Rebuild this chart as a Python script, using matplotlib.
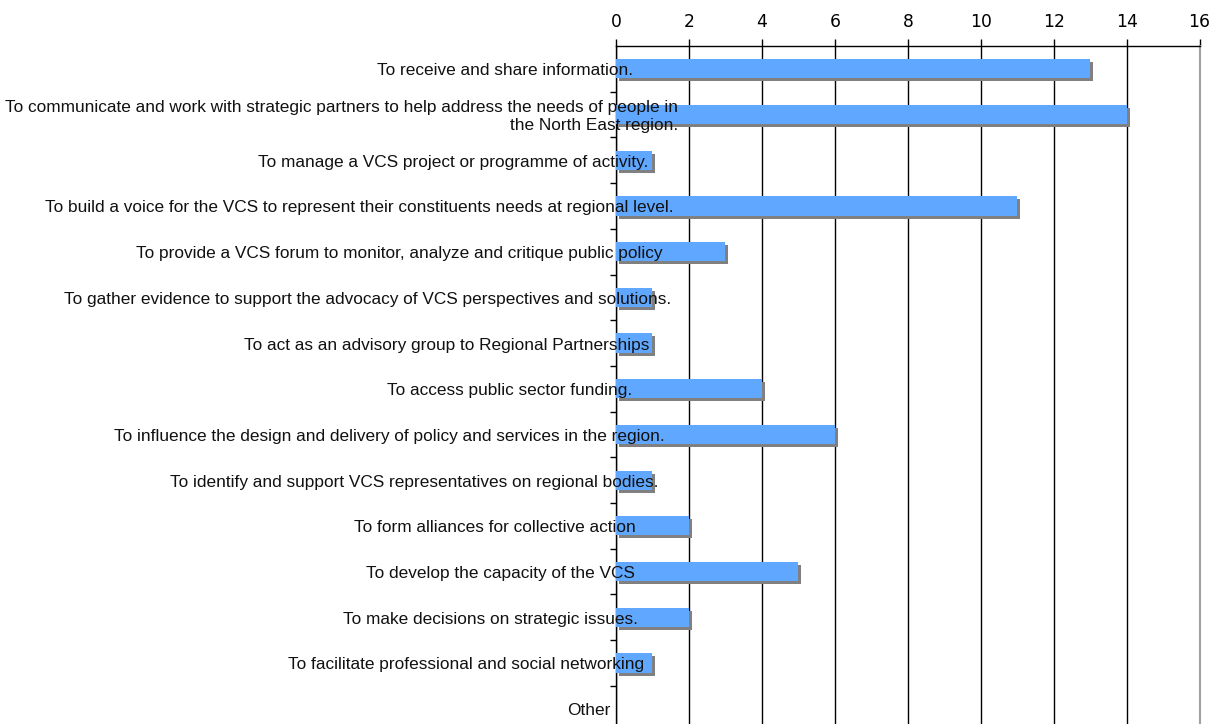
import matplotlib
matplotlib.use("Agg")
import matplotlib.pyplot as plt
import matplotlib.transforms as mtransforms
import numpy as np

categories = [
    "To receive and share information.",
    "To communicate and work with strategic partners to help address the needs of people in\nthe North East region.",
    "To manage a VCS project or programme of activity.",
    "To build a voice for the VCS to represent their constituents needs at regional level.",
    "To provide a VCS forum to monitor, analyze and critique public policy",
    "To gather evidence to support the advocacy of VCS perspectives and solutions.",
    "To act as an advisory group to Regional Partnerships",
    "To access public sector funding.",
    "To influence the design and delivery of policy and services in the region.",
    "To identify and support VCS representatives on regional bodies.",
    "To form alliances for collective action",
    "To develop the capacity of the VCS",
    "To make decisions on strategic issues.",
    "To facilitate professional and social networking",
    "Other",
]
values = [13, 14, 1, 11, 3, 1, 1, 4, 6, 1, 2, 5, 2, 1, 0]
xticks = [0, 2, 4, 6, 8, 10, 12, 14, 16]

DPI = 100
W, H = 1227, 724
fig = plt.figure(figsize=(W / DPI, H / DPI), dpi=DPI)
left_px, right_px, top_px, bot_px = 616, 1199.5, 46, 731.5
ax = fig.add_axes([left_px / W, 1 - bot_px / H, (right_px - left_px) / W, (bot_px - top_px) / H])

n = len(categories)
y = np.arange(n)
bar_h = 0.42
bar_color = "#60A8FF"
shadow_color = "#808080"

shadow_tr = ax.transData + mtransforms.ScaledTranslation(3 / DPI, -3 / DPI, fig.dpi_scale_trans)
ax.barh(y, values, height=bar_h, color=shadow_color, transform=shadow_tr, zorder=2, linewidth=0)
ax.barh(y, values, height=bar_h, color=bar_color, zorder=3, linewidth=0)

ax.set_xlim(0, 16)
ax.set_ylim(n - 0.5, -0.5)
ax.set_xticks(xticks)
ax.set_xticklabels([str(t) for t in xticks], fontfamily="DejaVu Sans", fontsize=12.3)
ax.xaxis.tick_top()
ax.tick_params(axis="x", direction="out", length=5, width=1, pad=6, colors="black")
ax.set_yticks(np.arange(n - 1) + 0.5)
ax.set_yticklabels([])
ax.tick_params(axis="y", direction="out", length=4, width=1, colors="black")

ax.grid(axis="x", color="black", linewidth=1, zorder=1)
ax.set_axisbelow(True)
ax.spines["bottom"].set_visible(False)
ax.spines["right"].set_color("#a0a0a0")
ax.spines["right"].set_linewidth(1.5)
ax.spines["top"].set_linewidth(1)
ax.spines["left"].set_linewidth(1)

texts = []
for i, lab in enumerate(categories):
    t = ax.text(0, i, lab, transform=ax.get_yaxis_transform(), ha="left", va="center",
                multialignment="right", fontfamily="Liberation Sans", fontsize=12.4,
                color="#111111", zorder=5)
    texts.append(t)

fig.canvas.draw()
renderer = fig.canvas.get_renderer()
k = 1.12
anchor = 10
for t in texts:
    w = t.get_window_extent(renderer).width
    dx = -(anchor + w / k)
    t.set_transform(ax.get_yaxis_transform() + mtransforms.ScaledTranslation(dx / DPI, -2 / DPI, fig.dpi_scale_trans))

fig.savefig("out.png", dpi=DPI)
